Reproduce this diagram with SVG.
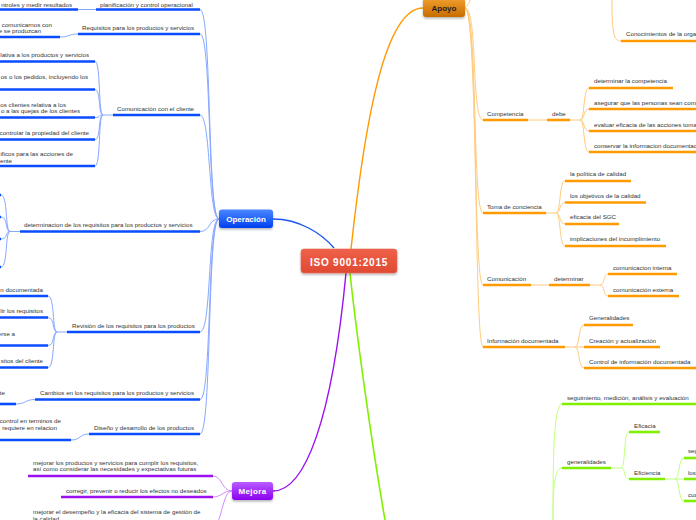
<svg xmlns="http://www.w3.org/2000/svg" width="696" height="520" viewBox="0 0 696 520">
<style>
.t{font-family:"Liberation Sans",Arial,sans-serif;font-size:6.2px;fill:#333}
.e{text-anchor:end}
.ub{stroke:#0a4cff;stroke-width:2.6;fill:none}
.uo{stroke:#ff9a00;stroke-width:2.6;fill:none}
.ug{stroke:#80f000;stroke-width:2.6;fill:none}
.up{stroke:#9a10f0;stroke-width:2.6;fill:none}
.cb{stroke:#86a8ff;stroke-width:1;fill:none}
.co{stroke:#ffcc80;stroke-width:1;fill:none}
.cg{stroke:#c2ff80;stroke-width:1;fill:none}
.cp{stroke:#d08cff;stroke-width:1;fill:none}
.nl{font-family:"Liberation Sans",Arial,sans-serif;font-weight:bold;text-anchor:middle}
</style>
<defs>
<linearGradient id="gR" x1="0" y1="0" x2="0" y2="1"><stop offset="0" stop-color="#f0604a"/><stop offset="1" stop-color="#e04a32"/></linearGradient>
<linearGradient id="gB" x1="0" y1="0" x2="0" y2="1"><stop offset="0" stop-color="#4a88ff"/><stop offset="1" stop-color="#0040f0"/></linearGradient>
<linearGradient id="gO" x1="0" y1="0" x2="0" y2="1"><stop offset="0" stop-color="#f0a030"/><stop offset="1" stop-color="#c86c00"/></linearGradient>
<linearGradient id="gP" x1="0" y1="0" x2="0" y2="1"><stop offset="0" stop-color="#b85cff"/><stop offset="1" stop-color="#8a00f0"/></linearGradient>
<filter id="sh" x="-20%" y="-30%" width="140%" height="170%"><feDropShadow dx="0" dy="1.5" stdDeviation="1.2" flood-color="#000" flood-opacity="0.3"/></filter>
</defs>

<g id="connectors">
<!-- main trunks -->
<path d="M273,219 C300,219 322,234 334,248" stroke="#1a55f0" stroke-width="1.4" fill="none"/>
<path d="M351,249 C365,120 385,8 423,8" stroke="#ff9a00" stroke-width="1.4" fill="none"/>
<path d="M346,273 C332,420 305,491 273,491" stroke="#9a10f0" stroke-width="1.4" fill="none"/>
<path d="M350,273 C356,330 371,440 385,520" stroke="#80f000" stroke-width="1.6" fill="none"/>
<!-- Operación -->
<path class="cb" d="M219,219 C207,219 212,9.5 200,9.5"/>
<path class="cb" d="M219,219 C207,219 212,34 200,34"/>
<path class="cb" d="M219,219 C208,219 211,115 200,115"/>
<path class="cb" d="M219,219 C208,219 211,231.5 200,231.5"/>
<path class="cb" d="M219,219 C207,219 212,332 200,332"/>
<path class="cb" d="M219,219 C207,219 212,399.5 200,399.5"/>
<path class="cb" d="M219,219 C207,219 212,434 200,434"/>
<path class="cb" d="M96,9.5 L78,9.5"/>
<path class="cb" d="M78,34 C68,34 70,37 60,37"/>
<path class="cb" d="M113,115 L103,115 C98,115 101,61.5 95,61.5"/>
<path class="cb" d="M103,115 C98,115 101,89.5 95,89.5"/>
<path class="cb" d="M103,115 C98,115 101,117.5 95,117.5"/>
<path class="cb" d="M103,115 C98,115 101,139.5 95,139.5"/>
<path class="cb" d="M103,115 C98,115 101,166 95,166"/>
<path class="cb" d="M20,231.5 L10,231.5 C5,231.5 8,195 1,195"/>
<path class="cb" d="M10,231.5 C5,231.5 8,217 1,217"/>
<path class="cb" d="M10,231.5 C5,231.5 8,239 1,239"/>
<path class="cb" d="M10,231.5 C5,231.5 8,267 1,267"/>
<path class="cb" d="M67,332 L57,332 C52,332 55,296 48,296"/>
<path class="cb" d="M57,332 C52,332 55,317.5 48,317.5"/>
<path class="cb" d="M57,332 C52,332 55,345.5 48,345.5"/>
<path class="cb" d="M57,332 C52,332 55,367.5 48,367.5"/>
<path class="cb" d="M35,399.5 C25,399.5 26,404 16,404"/>
<path class="cb" d="M89,434 C79,434 81,440 71,440"/>
<!-- Apoyo -->
<path class="co" d="M465,8 C468,6 469,3 470,0"/>
<path class="co" d="M612,0 C612,30 613,41 621,41"/>
<path class="co" d="M465,8 C478,8 471,120 483,120"/>
<path class="co" d="M465,8 C478,8 472,213 483,213"/>
<path class="co" d="M465,8 C478,8 473,285 483,285"/>
<path class="co" d="M465,8 C478,8 474,347 483,347"/>
<path class="co" d="M528,120 L547,120"/>
<path class="co" d="M570,120 L580,120 C585,120 583,88 589,88"/>
<path class="co" d="M580,120 C585,120 583,109 589,109"/>
<path class="co" d="M580,120 C585,120 583,131 589,131"/>
<path class="co" d="M580,120 C585,120 583,152 589,152"/>
<path class="co" d="M546,213 L556,213 C561,213 559,181 565,181"/>
<path class="co" d="M556,213 C561,213 559,202.5 565,202.5"/>
<path class="co" d="M556,213 C561,213 559,224 565,224"/>
<path class="co" d="M556,213 C561,213 559,246 565,246"/>
<path class="co" d="M531,285 L549,285"/>
<path class="co" d="M590,285 L600,285 C605,285 603,274 608,274"/>
<path class="co" d="M600,285 C605,285 603,296 608,296"/>
<path class="co" d="M565,347 L575,347 C580,347 578,325 584,325"/>
<path class="co" d="M575,347 L584,347"/>
<path class="co" d="M575,347 C580,347 578,368 584,368"/>
<!-- Mejora -->
<path class="cp" d="M232,491 C222,491 222,476 213,476"/>
<path class="cp" d="M232,491 C222,491 222,497 213,497"/>
<path class="cp" d="M232,491 C222,491 222,526 213,526"/>
<!-- green -->
<path class="cg" d="M553,520 C553,470 553,404 562,404"/>
<path class="cg" d="M553,520 C553,490 554,468 562,468"/>
<path class="cg" d="M611,468 L621,468 C626,468 623,432 629,432"/>
<path class="cg" d="M621,468 C626,468 623,479 629,479"/>
<path class="cg" d="M665,479 L675,479 C680,479 678,458 684,458"/>
<path class="cg" d="M675,479 L684,479"/>
<path class="cg" d="M675,479 C680,479 678,501 684,501"/>
</g>

<g id="node-center">
<rect x="301" y="249" width="96" height="24" rx="3" fill="url(#gR)" stroke="#e86a56" stroke-width="0.6" filter="url(#sh)"/>
<text class="nl" x="349" y="265.5" font-size="10" letter-spacing="0.8" fill="#fff">ISO 9001:2015</text>
</g>

<g id="node-operacion">
<rect x="219" y="209.5" width="54" height="18.5" rx="3" fill="url(#gB)" filter="url(#sh)"/>
<text class="nl" x="246" y="222" font-size="8" fill="#fff">Operación</text>
</g>
<g id="node-apoyo">
<rect x="423" y="-2" width="42" height="19" rx="3" fill="url(#gO)" filter="url(#sh)"/>
<text class="nl" x="444" y="11" font-size="8" fill="#222">Apoyo</text>
</g>
<g id="node-mejora">
<rect x="232" y="482" width="41" height="18" rx="3" fill="url(#gP)" filter="url(#sh)"/>
<text class="nl" x="252.5" y="494" font-size="8" letter-spacing="0.4" fill="#fff">Mejora</text>
</g>

<!-- Operación topics -->
<g id="op-planificacion">
<path class="ub" d="M96,9.5 H200"/><text class="t" x="100" y="7">planificación y control operacional</text>
<path class="ub" d="M0,9.5 H78"/><text class="t e" x="72" y="7">ntroles y medir resultados</text>
</g>
<g id="op-requisitos">
<path class="ub" d="M78,34 H200"/><text class="t" x="82" y="29.5">Requisitos para los productos y servicios</text>
<path class="ub" d="M0,37 H60"/><text class="t e" x="52" y="26.5">comunicarnos con</text><text class="t e" x="41" y="32.5">e se produzcan</text>
</g>
<g id="op-comunicacion">
<path class="ub" d="M113,115 H200"/><text class="t" x="117" y="110.5">Comunicación con el cliente</text>
<path class="ub" d="M0,61.5 H95"/><text class="t e" x="89" y="57">lativa a los productos y servicios</text>
<path class="ub" d="M0,89.5 H95"/><text class="t e" x="88" y="79">os o los pedidos, incluyendo los</text>
<path class="ub" d="M0,117.5 H95"/><text class="t e" x="66" y="107">os clientes relativa a los</text><text class="t e" x="80" y="113">o a las quejas de los clientes</text>
<path class="ub" d="M0,139.5 H95"/><text class="t e" x="89" y="135">controlar la propiedad del cliente</text>
<path class="ub" d="M0,166 H95"/><text class="t e" x="73" y="156">ificos para las acciones de</text><text class="t e" x="12" y="163">ente</text>
</g>
<g id="op-determinacion">
<path class="ub" d="M20,231.5 H200"/><text class="t" x="24" y="226.5">determinacion de los requisitos para los productos y servicios</text>
<path class="ub" d="M-4,195 H1 M-4,217 H1 M-4,239 H1 M-4,267 H1"/>
</g>
<g id="op-revision">
<path class="ub" d="M67,332 H200"/><text class="t" x="72" y="327.5">Revisión de los requisitos para los productos</text>
<path class="ub" d="M0,296 H48"/><text class="t e" x="43" y="291.5">n documentada</text>
<path class="ub" d="M0,317.5 H48"/><text class="t e" x="43" y="313">lir los requisitos</text>
<path class="ub" d="M0,345.5 H48"/><text class="t e" x="15" y="335.5">erse a</text>
<path class="ub" d="M0,367.5 H48"/><text class="t e" x="43" y="363">sitos del cliente</text>
</g>
<g id="op-cambios">
<path class="ub" d="M35,399.5 H200"/><text class="t" x="40" y="395">Cambios en los requisitos para los productos y servicios</text>
<path class="ub" d="M0,404 H16"/><text class="t e" x="5" y="395">te</text>
</g>
<g id="op-diseno">
<path class="ub" d="M89,434 H200"/><text class="t" x="94" y="429.5">Diseño y desarrollo de los productos</text>
<path class="ub" d="M0,440 H71"/><text class="t e" x="61" y="423">control en terminos de</text><text class="t e" x="57" y="429.5">requiere en relacion</text>
</g>

<!-- Apoyo topics -->
<g id="ap-conocimientos">
<path class="uo" d="M621,41 H700"/><text class="t" x="626" y="36">Conocimientos de la orga</text>
</g>
<g id="ap-competencia">
<path class="uo" d="M483,120 H528"/><text class="t" x="487" y="115.5">Competencia</text>
<path class="uo" d="M547,120 H570"/><text class="t" x="552" y="115.5">debe</text>
<path class="uo" d="M589,88 H673"/><text class="t" x="594" y="83">determinar la competencia</text>
<path class="uo" d="M589,109 H700"/><text class="t" x="594" y="104.5">asegurar que las personas sean comp</text>
<path class="uo" d="M589,131 H700"/><text class="t" x="594" y="126.5">evaluar eficacia de las acciones toma</text>
<path class="uo" d="M589,152 H700"/><text class="t" x="594" y="148">conservar la informacion documentac</text>
</g>
<g id="ap-toma">
<path class="uo" d="M483,213 H546"/><text class="t" x="487" y="209">Toma de conciencia</text>
<path class="uo" d="M565,181 H631"/><text class="t" x="570" y="176">la política de calidad</text>
<path class="uo" d="M565,202.5 H646"/><text class="t" x="570" y="197.5">los objetivos de la calidad</text>
<path class="uo" d="M565,224 H619"/><text class="t" x="570" y="219">eficacia del SGC</text>
<path class="uo" d="M565,246 H666"/><text class="t" x="570" y="241">implicaciones del incumplimiento</text>
</g>
<g id="ap-comunicacion">
<path class="uo" d="M483,285 H531"/><text class="t" x="487" y="281">Comunicación</text>
<path class="uo" d="M549,285 H590"/><text class="t" x="554" y="281">determinar</text>
<path class="uo" d="M608,274 H677"/><text class="t" x="613" y="270">comunicacion interna</text>
<path class="uo" d="M608,296 H679"/><text class="t" x="613" y="291.5">comunicación externa</text>
</g>
<g id="ap-informacion">
<path class="uo" d="M483,347 H565"/><text class="t" x="487" y="342.5">Información documentada</text>
<path class="uo" d="M584,325 H633"/><text class="t" x="589" y="320">Generalidades</text>
<path class="uo" d="M584,347 H660"/><text class="t" x="589" y="342.5">Creación y actualización</text>
<path class="uo" d="M584,368 H700"/><text class="t" x="589" y="364">Control de información documentada</text>
</g>

<!-- Mejora topics -->
<g id="me-mejorar-productos">
<path class="up" d="M28,476 H213"/><text class="t" x="33" y="465">mejorar los productos y servicios para cumplir los requisitos,</text><text class="t" x="33" y="471">así como considerar las necesidades y expectativas futuras</text>
</g>
<g id="me-corregir">
<path class="up" d="M61,497 H213"/><text class="t" x="66" y="493">corregir, prevenir o reducir los efectos no deseados</text>
</g>
<g id="me-desempeno">
<path class="up" d="M28,526 H213"/><text class="t" x="33" y="514">mejorar el desempeño y la eficacia del sistema de gestión de</text><text class="t" x="33" y="520.5">la calidad</text>
</g>

<!-- green topics -->
<g id="gr-seguimiento">
<path class="ug" d="M562,404 H700"/><text class="t" x="567" y="400">seguimiento, medición, análisis y evaluación</text>
</g>
<g id="gr-generalidades">
<path class="ug" d="M562,468 H611"/><text class="t" x="567" y="464">generalidades</text>
<path class="ug" d="M629,432 H660"/><text class="t" x="634" y="428">Eficacia</text>
<path class="ug" d="M629,479 H665"/><text class="t" x="634" y="475">Eficiencia</text>
<path class="ug" d="M684,458 H700"/><text class="t" x="688" y="453">seg</text>
<path class="ug" d="M684,479 H700"/><text class="t" x="688" y="475">los</text>
<path class="ug" d="M684,501 H700"/><text class="t" x="688" y="496.5">cua</text>
</g>
</svg>
